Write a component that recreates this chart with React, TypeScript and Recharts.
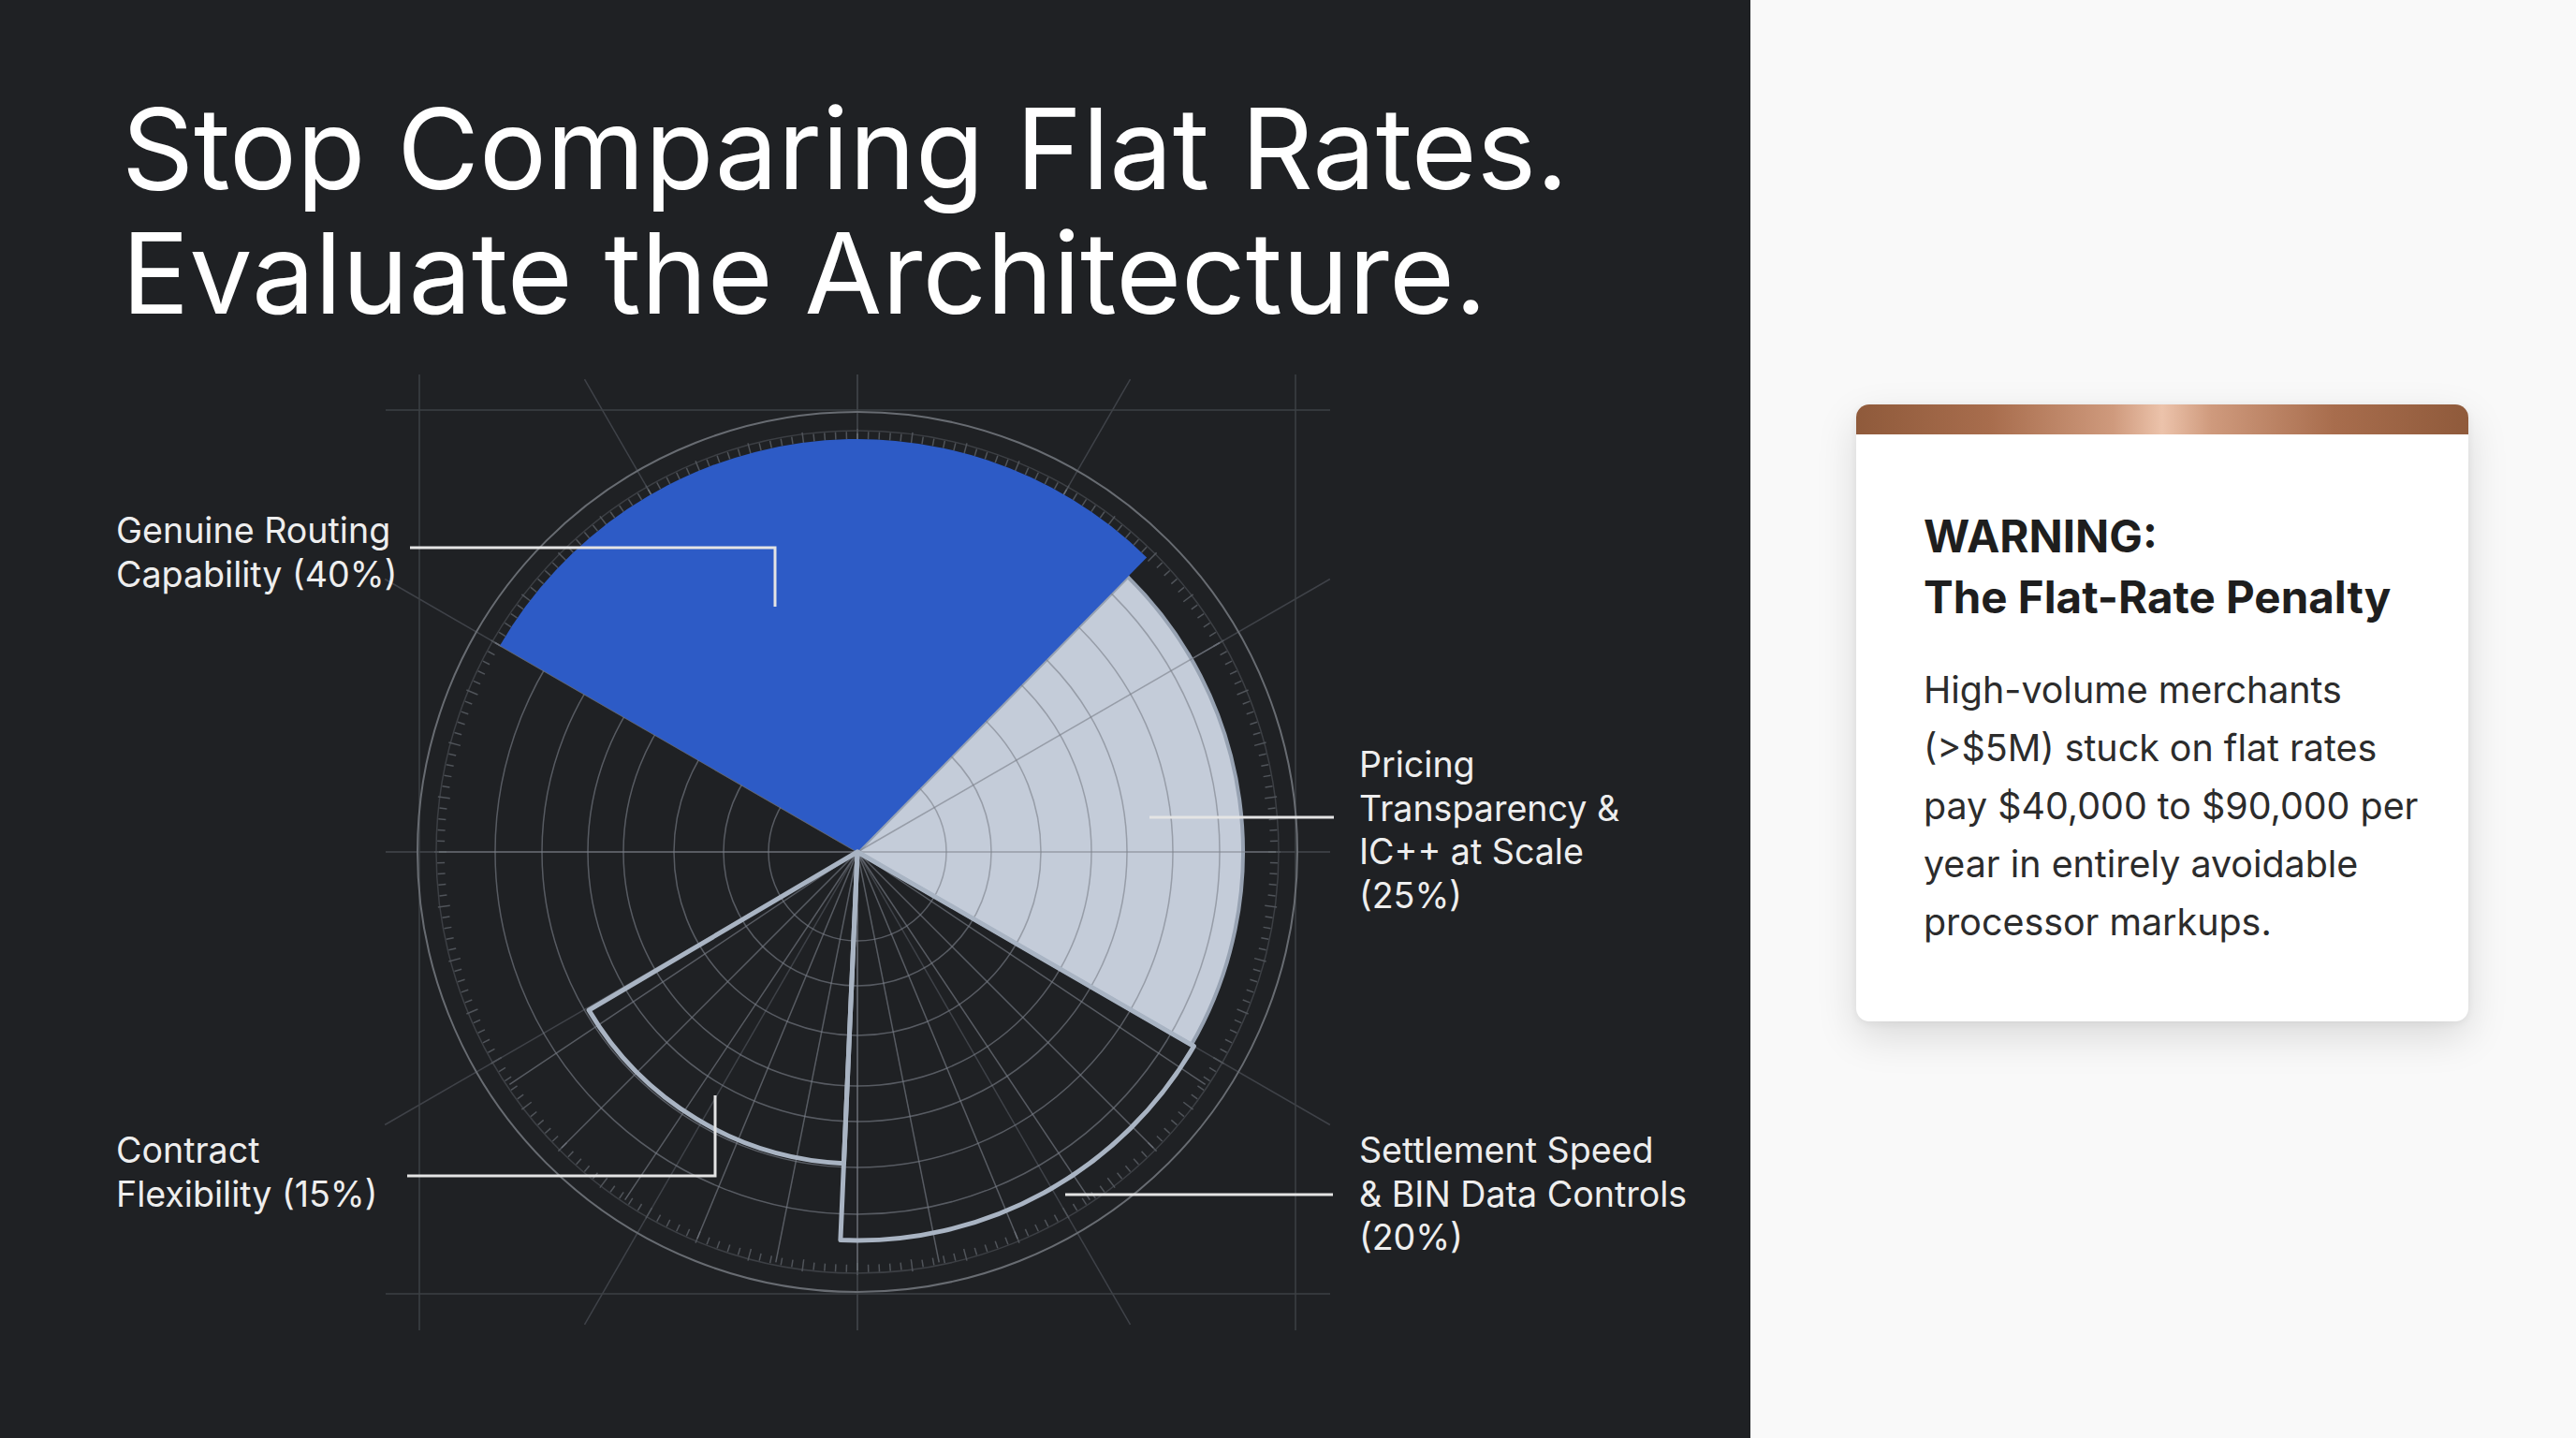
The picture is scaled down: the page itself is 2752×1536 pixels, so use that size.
import React from 'react';
import { PieChart, Pie, Cell, PolarGrid } from 'recharts';

// ---------- data ----------
const categories = [
  'Genuine Routing Capability',
  'Pricing Transparency & IC++ at Scale',
  'Settlement Speed & BIN Data Controls',
  'Contract Flexibility',
  'Unassigned',
];
const sharePercent = [40, 25, 20, 15, 0];
// angular sweep of each sector as drawn in the picture (degrees)
const sweepDegrees = [104.5, 75.5, 62.5, 57, 60.5];
// drawn radius of each sector (px)
const sectorRadius = [441, 412, 415, 333, 0];

const ringRadii = [95, 143, 196, 250, 288, 337, 387];
const upperSpokes = [0, 30, 60, 90, 120, 150, 180];
const lowerSpokes = [213.75, 225, 236.25, 247.5, 258.75, 270, 281.25, 292.5, 303.75, 315, 326.25];
const diagonalSpokes = [30, 60, 120, 150, 210, 240, 300, 330];

const titleLines = ['Stop Comparing Flat Rates.', 'Evaluate the Architecture.'];
const warningTitle = ['WARNING:', 'The Flat-Rate Penalty'];
const warningBody = [
  'High-volume merchants',
  '(>$5M) stuck on flat rates',
  'pay $40,000 to $90,000 per',
  'year in entirely avoidable',
  'processor markups.',
];

const labelLines = [
  ['Genuine Routing', `Capability (${sharePercent[0]}%)`],
  ['Pricing', 'Transparency &', 'IC++ at Scale', `(${sharePercent[1]}%)`],
  ['Settlement Speed', '& BIN Data Controls', `(${sharePercent[2]}%)`],
  ['Contract', `Flexibility (${sharePercent[3]}%)`],
];

const pieData = categories.map((name, i) => ({ name, sweep: sweepDegrees[i], share: sharePercent[i] }));

// ---------- layout / style ----------
const W = 2752;
const H = 1536;
const PANEL_W = 1870;
const CX = 916;
const CY = 910;
const START = 150;
const END = -210;
const FONT = 'Inter, "Noto Sans", sans-serif';
const BG = '#1f2124';

const sectorStyle = [
  { fill: '#2d5bc6', stroke: 'none', strokeWidth: 0 },
  { fill: '#c4ccd9', stroke: '#97a2b2', strokeWidth: 4 },
  { fill: 'none', stroke: '#a9b4c3', strokeWidth: 5 },
  { fill: 'none', stroke: '#a9b4c3', strokeWidth: 5 },
];

const labelPos = [
  { x: 124, y: 580 },
  { x: 1452, y: 830 },
  { x: 1452, y: 1242 },
  { x: 124, y: 1242 },
];
const leaders = [
  '438,585 828,585 828,648',
  '1228,873 1425,873',
  '1138,1276 1424,1276',
  '435,1256 764,1256 764,1170',
];

const rad = (a: number) => (a * Math.PI) / 180;
const pt = (r: number, a: number) => [CX + r * Math.cos(rad(a)), CY - r * Math.sin(rad(a))];

function SectorLayer({ idx }: { idx: number[] }) {
  return (
    <div style={{ position: 'absolute', left: 0, top: 0 }}>
      <PieChart width={PANEL_W} height={H} margin={{ top: 0, right: 0, bottom: 0, left: 0 }}>
        {idx.map((k) => (
          <Pie
            key={k}
            data={pieData}
            dataKey="sweep"
            nameKey="name"
            cx={CX}
            cy={CY}
            innerRadius={0}
            outerRadius={sectorRadius[k]}
            startAngle={START}
            endAngle={END}
            paddingAngle={0}
            isAnimationActive={false}
            label={false}
          >
            {pieData.map((d, i) => (
              <Cell
                key={d.name}
                fill={i === k ? sectorStyle[k].fill : 'none'}
                stroke={i === k ? sectorStyle[k].stroke : 'none'}
                strokeWidth={i === k ? sectorStyle[k].strokeWidth : 0}
                strokeLinejoin="round"
              />
            ))}
          </Pie>
        ))}
      </PieChart>
    </div>
  );
}

function GridLayer() {
  return (
    <div style={{ position: 'absolute', left: 0, top: 0 }}>
      <PieChart width={PANEL_W} height={H} cx={CX} cy={CY} innerRadius={0} outerRadius={447}>
        <PolarGrid
          gridType="circle"
          polarRadius={ringRadii}
          polarAngles={[...upperSpokes, ...lowerSpokes]}
          stroke="#7a8089"
          strokeOpacity={0.62}
          strokeWidth={1.5}
        />
      </PieChart>
    </div>
  );
}

function Backdrop() {
  const ticks: React.ReactNode[] = [];
  for (let i = 0; i < 240; i++) {
    const a = i * 1.5;
    const long = i % 5 === 0;
    const [x1, y1] = pt(long ? 439 : 441, a);
    const [x2, y2] = pt(long ? 452 : 449, a);
    ticks.push(<line key={i} x1={x1} y1={y1} x2={x2} y2={y2} stroke="#50545a" strokeWidth={1.5} />);
  }
  const ext = { top: CY - 510, bottom: CY + 511, left: CX - 504, right: CX + 505 };
  return (
    <svg width={PANEL_W} height={H} style={{ position: 'absolute', left: 0, top: 0 }}>
      {diagonalSpokes.map((a) => {
        const [x2, y2] = pt(583, a);
        return <line key={a} x1={CX} y1={CY} x2={x2} y2={y2} stroke="#3f4248" strokeWidth={1.5} />;
      })}
      <line x1={CX} y1={ext.top} x2={CX} y2={ext.bottom} stroke="#44474d" strokeWidth={1.5} />
      <line x1={ext.left} y1={CY} x2={ext.right} y2={CY} stroke="#44474d" strokeWidth={1.5} />
      {[-468, 468].map((d) => (
        <line key={'v' + d} x1={CX + d} y1={ext.top} x2={CX + d} y2={ext.bottom} stroke="#3d4045" strokeWidth={1.5} />
      ))}
      {[-472, 472].map((d) => (
        <line key={'h' + d} x1={ext.left} y1={CY + d} x2={ext.right} y2={CY + d} stroke="#3d4045" strokeWidth={1.5} />
      ))}
      <circle cx={CX} cy={CY} r={470} fill="none" stroke="#686c72" strokeWidth={2} />
      <circle cx={CX} cy={CY} r={450} fill="none" stroke="#3c3f44" strokeWidth={1.5} />
      {ticks}
    </svg>
  );
}

function Overlay() {
  return (
    <svg width={W} height={H} style={{ position: 'absolute', left: 0, top: 0, pointerEvents: 'none' }}>
      {titleLines.map((t, i) => (
        <text key={t} x={130} y={202 + i * 133} fill="#ffffff" fontFamily={FONT} fontSize={120}>
          {t}
        </text>
      ))}
      {leaders.map((p) => (
        <polyline key={p} points={p} fill="none" stroke="#e4e4e4" strokeWidth={3} />
      ))}
      {labelLines.map((lines, k) =>
        lines.map((t, j) => (
          <text key={k + '-' + j} x={labelPos[k].x} y={labelPos[k].y + j * 46.7} fill="#eeeeee" fontFamily={FONT} fontSize={37.6}>
            {t}
          </text>
        ))
      )}
      {warningTitle.map((t, i) => (
        <text key={t} x={2055} y={590 + i * 65} fill="#1e1e1e" fontFamily={FONT} fontSize={47.5} fontWeight={700}>
          {t}
        </text>
      ))}
      {warningBody.map((t, i) => (
        <text key={t} x={2055} y={751 + i * 62} fill="#2c2c2c" fontFamily={FONT} fontSize={39.4}>
          {t}
        </text>
      ))}
    </svg>
  );
}

export default function App() {
  return (
    <div style={{ position: 'fixed', left: 0, top: 0, width: W, height: H, background: '#f9f9f9', overflow: 'hidden' }}>
      <div style={{ position: 'absolute', left: 0, top: 0, width: PANEL_W, height: H, background: BG }}>
        <Backdrop />
        <SectorLayer idx={[1]} />
        <GridLayer />
        <SectorLayer idx={[0, 2, 3]} />
      </div>
      <div
        style={{
          position: 'absolute',
          left: 1983,
          top: 432,
          width: 654,
          height: 659,
          background: '#ffffff',
          borderRadius: 14,
          overflow: 'hidden',
          boxShadow: '0 16px 44px rgba(0,0,0,0.13), 0 2px 8px rgba(0,0,0,0.06)',
        }}
      >
        <div
          style={{
            height: 32,
            background:
              'linear-gradient(90deg, #8f5a3b 0%, #a86d4d 22%, #cf9a7d 42%, #ecc3ab 50%, #cf9a7d 58%, #a86d4d 78%, #8f5a3b 100%)',
          }}
        />
      </div>
      <Overlay />
    </div>
  );
}
